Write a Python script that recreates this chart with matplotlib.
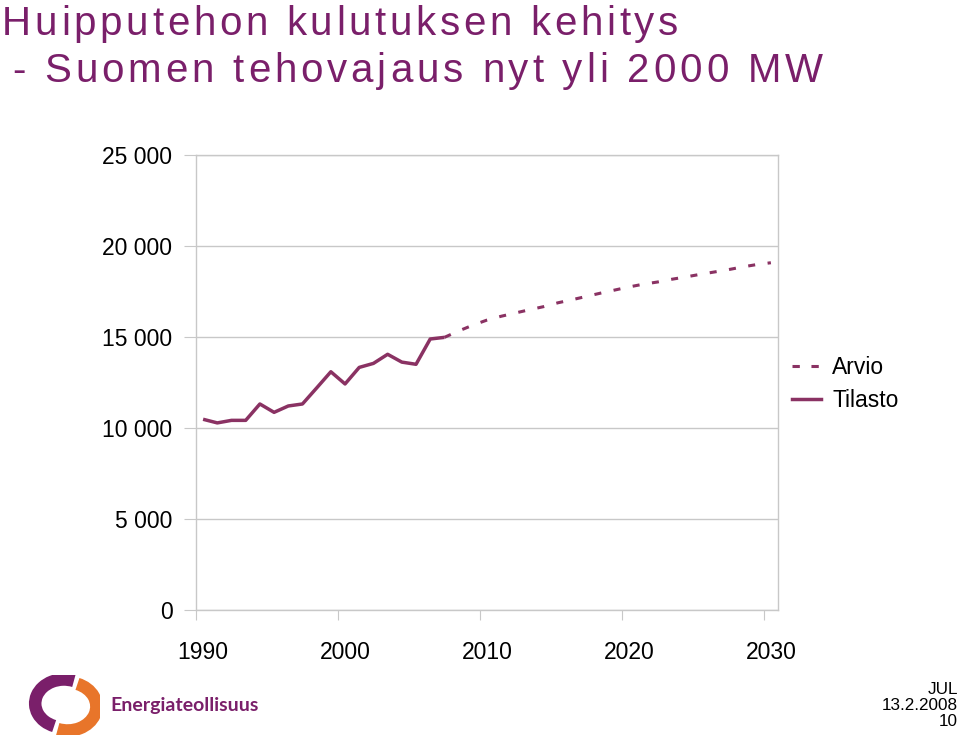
import matplotlib
matplotlib.use("Agg")
import matplotlib.pyplot as plt
from matplotlib.lines import Line2D
from matplotlib.patches import Arc
from matplotlib.font_manager import FontProperties

plt.rcParams['font.family'] = ['Liberation Sans', 'DejaVu Sans']

# measured peak load (Tilasto) and forecast (Arvio), MW
years_tilasto = list(range(1990, 2008))
tilasto = [10480, 10280, 10420, 10420, 11320, 10860, 11210, 11320, 12200, 13090,
           12420, 13330, 13550, 14050, 13620, 13500, 14890, 14980]
years_arvio = list(range(2007, 2031))
arvio = [14980, 15330, 15650, 15930, 16140, 16320, 16500, 16670, 16880, 17050,
         17230, 17410, 17580, 17750, 17900, 18020, 18170, 18300, 18440, 18570,
         18700, 18850, 18980, 19080]

y_ticks = [0, 5000, 10000, 15000, 20000, 25000]
y_labels = ['0', '5 000', '10 000', '15 000', '20 000', '25 000']
x_labels = [1990, 2000, 2010, 2020, 2030]

line_col = '#8a3263'
title_col = '#7a1f6a'
grid_col = '#c8c8c8'
dash = (0, (2.3, 4.1))

fig = plt.figure(figsize=(9.6, 7.36), dpi=100)
ax = fig.add_axes([196/960, 1-610/736, 582/960, 455/736])

ax.plot(years_arvio, arvio, color=line_col, lw=2.2, linestyle=dash,
        dash_capstyle='butt', label='Arvio')
ax.plot(years_tilasto, tilasto, color=line_col, lw=2.5, label='Tilasto',
        solid_capstyle='butt')

ax.set_xlim(1989.5, 2030.5)
ax.set_ylim(0, 25000)

# category axis: tick marks between groups, labels at group centres
ax.set_xticks([1989.5, 1999.5, 2009.5, 2019.5, 2029.5])
ax.set_xticklabels([])
ax.set_xticks(x_labels, minor=True)
ax.set_xticklabels([str(v) for v in x_labels], minor=True)
ax.tick_params(axis='x', which='major', length=7, color=grid_col, direction='out')
ax.tick_params(axis='x', which='minor', length=0, pad=22, labelsize=16.5)

ax.set_yticks(y_ticks)
ax.set_yticklabels(y_labels)
ax.tick_params(axis='y', length=9, color=grid_col, pad=8, labelsize=16.5)

ax.yaxis.grid(True, color=grid_col, lw=1)
ax.set_axisbelow(True)
for s in ax.spines.values():
    s.set_color(grid_col)
    s.set_linewidth(1)

handles = [Line2D([], [], color=line_col, lw=2.2, linestyle=(0, (2.4, 3.8))),
           Line2D([], [], color=line_col, lw=2.5)]
ax.legend(handles, ['Arvio', 'Tilasto'], frameon=False, fontsize=16.5,
          loc='center left', bbox_to_anchor=(792/960, 1-384/736),
          bbox_transform=fig.transFigure, handlelength=1.27, handletextpad=0.48,
          labelspacing=0.42, borderpad=0, borderaxespad=0)


# title with wide letter spacing
renderer = fig.canvas.get_renderer()
title_font = FontProperties(family='Liberation Sans', size=29)


def spaced_text(x_px, y_px, s, track_px):
    bar_w = renderer.get_text_width_height_descent('|', title_font, ismath=False)[0]
    for i, ch in enumerate(s):
        pre_w = renderer.get_text_width_height_descent(s[:i] + '|', title_font, ismath=False)[0] - bar_w
        fig.text((x_px + pre_w + i * track_px) / 960, 1 - y_px / 736, ch,
                 color=title_col, fontproperties=title_font, va='baseline', ha='left')


spaced_text(2, 35, 'Huipputehon kulutuksen kehitys', 3.7)
spaced_text(12, 82, '- Suomen tehovajaus nyt yli 2000 MW', 3.9)

# logo
lax = fig.add_axes([28/960, 1-735/736, 72/960, 60/736])
lax.set_xlim(-1, 1)
lax.set_ylim(-1, 1)
lax.axis('off')
lax.add_patch(Arc((0, 0.05), 1.6, 1.6, theta1=70, theta2=250, lw=9, color='#7a1f6a'))
lax.add_patch(Arc((0.1, -0.05), 1.6, 1.6, theta1=250, theta2=430, lw=9, color='#e8752a'))
fig.text(110/960, 1-706/736, 'Energiateollisuus', color='#7a1f6a', fontsize=14,
         fontweight='bold', va='center', ha='left', family=['Lato', 'DejaVu Sans'])

fig.text(958/960, 1-689/736, 'JUL', fontsize=12.3, ha='right', va='center')
fig.text(958/960, 1-705/736, '13.2.2008', fontsize=12.3, ha='right', va='center')
fig.text(958/960, 1-721/736, '10', fontsize=12.3, ha='right', va='center')

fig.savefig('out.png', dpi=100)
